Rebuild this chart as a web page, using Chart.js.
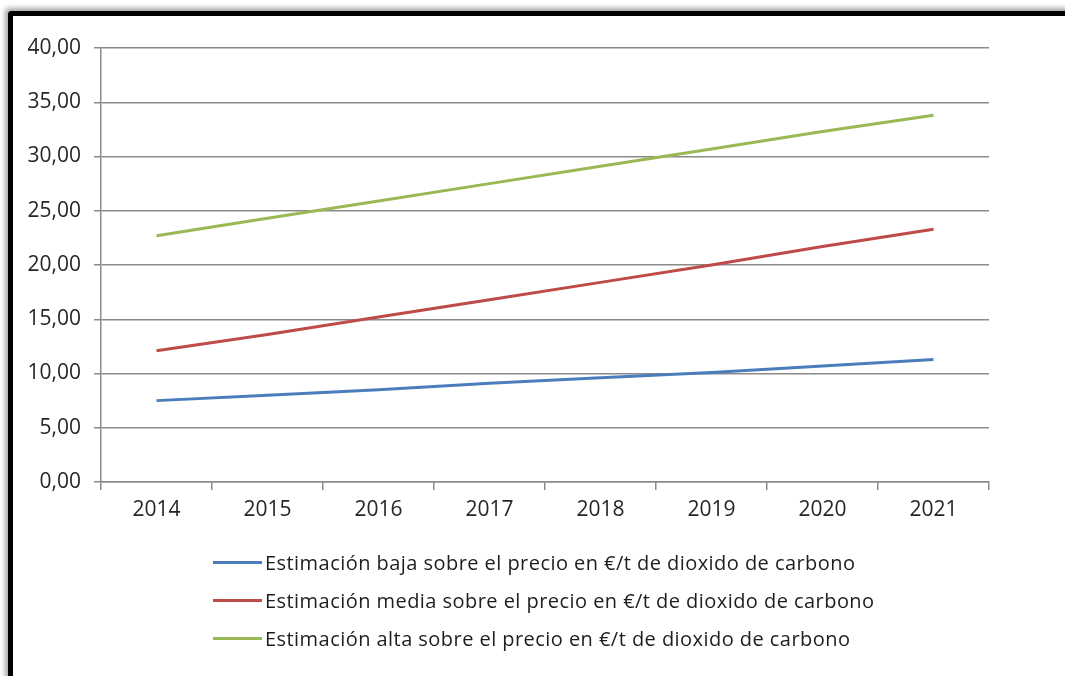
<!DOCTYPE html>
<html>
<head>
<meta charset="utf-8">
<script src="https://cdn.jsdelivr.net/npm/chart.js@4"></script>
<style>
  html, body { margin: 0; padding: 0; background: #fff; overflow: hidden; }
  #wrap { position: relative; width: 1065px; height: 676px; }
  #frame {
    position: absolute; left: 8px; top: 11px; width: 1100px; height: 720px;
    border-top: 5px solid #000; border-left: 5px solid #000;
    border-top-left-radius: 4px;
    box-shadow: -3px -3px 5px rgba(0,0,0,0.35);
    pointer-events: none;
  }
  #chart { position: absolute; left: 0; top: 0; }
  #legend {
    position: absolute; left: 213px; top: 543px;
    font-family: "Open Sans", sans-serif;
    font-size: 20px; letter-spacing: 0.45px; color: #1e1e1e;
  }
  .item { display: flex; align-items: center; height: 38px; }
  .swatch { width: 49px; height: 3px; margin-right: 3px; }
</style>
</head>
<body>
<div id="wrap">
  <canvas id="chart" width="1065" height="676"></canvas>
  <div id="legend"></div>
  <div id="frame"></div>
</div>
<script>
const years = ['2014', '2015', '2016', '2017', '2018', '2019', '2020', '2021'];
const bajaValues = [7.5, 8.0, 8.5, 9.1, 9.6, 10.1, 10.7, 11.3];
const mediaValues = [12.1, 13.6, 15.2, 16.8, 18.4, 20.0, 21.7, 23.3];
const altaValues = [22.7, 24.3, 25.9, 27.5, 29.1, 30.7, 32.3, 33.8];
const seriesNames = [
  'Estimación baja sobre el precio en €/t de dioxido de carbono',
  'Estimación media sobre el precio en €/t de dioxido de carbono',
  'Estimación alta sobre el precio en €/t de dioxido de carbono'
];
const seriesColors = ['#4a7ebb', '#be4b48', '#98b954'];

const gridColor = '#8a8a8a';
const tickFont = { family: '"Open Sans", sans-serif', size: 21 };

const ctx = document.getElementById('chart').getContext('2d');
const chart = new Chart(ctx, {
  type: 'line',
  data: {
    labels: years,
    datasets: [bajaValues, mediaValues, altaValues].map((values, i) => ({
      label: seriesNames[i],
      data: values,
      borderColor: seriesColors[i],
      backgroundColor: seriesColors[i],
      borderWidth: 3,
      pointRadius: 0,
      tension: 0
    }))
  },
  options: {
    responsive: false,
    animation: false,
    layout: { padding: { left: 0, top: 48, right: 76, bottom: 154 } },
    plugins: {
      legend: { display: false },
      tooltip: { enabled: false }
    },
    scales: {
      x: {
        offset: true,
        grid: {
          offset: true,
          drawOnChartArea: false,
          drawTicks: true,
          tickLength: 8,
          color: gridColor,
          lineWidth: 1.5
        },
        border: { color: gridColor, width: 1.5 },
        ticks: { color: '#262626', font: tickFont, padding: 7, maxRotation: 0 },
        afterFit: (scale) => { scale.height = 40; }
      },
      y: {
        min: 0,
        max: 40,
        grid: { color: gridColor, lineWidth: 1.5, tickLength: 7 },
        border: { color: gridColor, width: 1.5 },
        ticks: {
          stepSize: 5,
          color: '#262626',
          font: tickFont,
          padding: 13,
          callback: (v) => v.toFixed(2).replace('.', ',')
        },
        afterFit: (scale) => { scale.width = 101; }
      }
    }
  }
});

// legend list built from the datasets, one entry per row
const legendEl = document.getElementById('legend');
chart.data.datasets.forEach((ds) => {
  const row = document.createElement('div');
  row.className = 'item';
  const sw = document.createElement('span');
  sw.className = 'swatch';
  sw.style.background = ds.borderColor;
  const txt = document.createElement('span');
  txt.textContent = ds.label;
  row.appendChild(sw);
  row.appendChild(txt);
  legendEl.appendChild(row);
});
</script>
</body>
</html>
